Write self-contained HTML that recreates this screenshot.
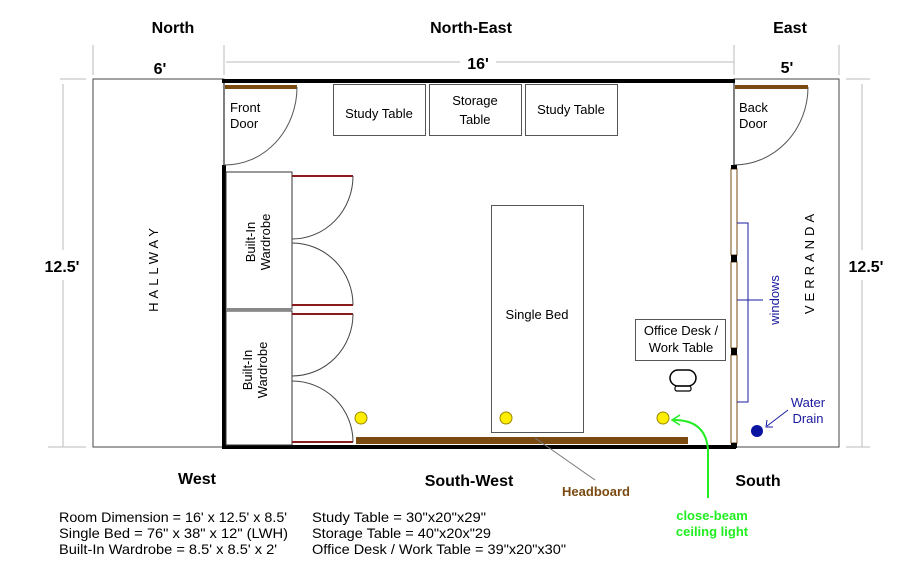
<!DOCTYPE html>
<html><head><meta charset="utf-8"><style>
html,body{margin:0;padding:0;background:#fff;}
svg{display:block;font-family:"Liberation Sans",Arial,sans-serif;}
</style></head><body>
<svg width="900" height="562" viewBox="0 0 900 562" xmlns="http://www.w3.org/2000/svg">
<rect width="900" height="562" fill="#fff"/>
<g stroke="#bbb" stroke-width="1" fill="none">
<line x1="93" y1="45" x2="93" y2="75"/>
<line x1="224" y1="45" x2="224" y2="75"/>
<line x1="226" y1="62" x2="460" y2="62"/>
<line x1="496" y1="62" x2="734" y2="62"/>
<line x1="734" y1="45" x2="734" y2="75"/>
<line x1="839" y1="45" x2="839" y2="75"/>
<line x1="60" y1="79" x2="86" y2="79"/>
<line x1="63" y1="84" x2="63" y2="250"/>
<line x1="63" y1="280" x2="63" y2="447"/>
<line x1="48" y1="447" x2="86" y2="447"/>
<line x1="846" y1="79" x2="870" y2="79"/>
<line x1="862" y1="84" x2="862" y2="250"/>
<line x1="862" y1="280" x2="862" y2="447"/>
<line x1="846" y1="447" x2="870" y2="447"/>
</g>
<g font-weight="bold" font-size="16" fill="#000" text-anchor="middle">
<text x="173" y="33">North</text>
<text x="471" y="33">North-East</text>
<text x="790" y="33">East</text>
<text x="160" y="74">6'</text>
<text x="478" y="69">16'</text>
<text x="787" y="73">5'</text>
<text x="62" y="272">12.5'</text>
<text x="866" y="272">12.5'</text>
<text x="197" y="484">West</text>
<text x="469" y="486">South-West</text>
<text x="758" y="486">South</text>
</g>
<rect x="93" y="79" width="131" height="368" fill="none" stroke="#444" stroke-width="1"/>
<rect x="734" y="79" width="105" height="368" fill="none" stroke="#444" stroke-width="1"/>
<text transform="translate(158,268) rotate(-90)" font-size="13" text-anchor="middle" letter-spacing="4">HALLWAY</text>
<text transform="translate(814,262) rotate(-90)" font-size="13" text-anchor="middle" letter-spacing="4">VERRANDA</text>
<g stroke="#000" fill="none">
<line x1="224" y1="80" x2="224" y2="165" stroke-width="1"/>
<line x1="222" y1="81" x2="735" y2="81" stroke-width="4"/>
<line x1="224" y1="165" x2="224" y2="449" stroke-width="4"/>
<line x1="222" y1="447" x2="736" y2="447" stroke-width="4"/>
<line x1="734" y1="80" x2="734" y2="165" stroke-width="1"/>
</g>
<line x1="225" y1="87" x2="297" y2="87" stroke="#7a4a10" stroke-width="4"/>
<path d="M297,87 A72,78 0 0 1 224,165" fill="none" stroke="#555" stroke-width="1"/>
<line x1="735" y1="87" x2="808" y2="87" stroke="#7a4a10" stroke-width="4"/>
<path d="M808,87 A74,78 0 0 1 734,165" fill="none" stroke="#555" stroke-width="1"/>
<g font-size="13" fill="#000">
<text x="230" y="112">Front</text><text x="230" y="128">Door</text>
<text x="739" y="112">Back</text><text x="739" y="128">Door</text>
</g>
<rect x="226" y="172" width="66" height="137" fill="none" stroke="#333"/>
<rect x="226" y="311" width="66" height="134" fill="none" stroke="#333"/>
<line x1="226" y1="309.5" x2="292" y2="309.5" stroke="#888" stroke-width="3"/>
<g stroke="#8b1a1a" stroke-width="2">
<line x1="292" y1="176" x2="353" y2="176"/><line x1="292" y1="305" x2="353" y2="305"/>
<line x1="292" y1="314" x2="353" y2="314"/><line x1="292" y1="442" x2="353" y2="442"/>
</g>
<g fill="none" stroke="#444" stroke-width="1">
<path d="M353,176 A61,63 0 0 1 292,239"/>
<path d="M292,243 A61,62 0 0 1 353,305"/>
<path d="M353,314 A61,62 0 0 1 292,376"/>
<path d="M292,381 A61,61 0 0 1 353,442"/>
</g>
<g font-size="13" text-anchor="middle">
<text transform="translate(255,242) rotate(-90)">Built-In</text>
<text transform="translate(270,242) rotate(-90)">Wardrobe</text>
<text transform="translate(252,370) rotate(-90)">Built-In</text>
<text transform="translate(267,370) rotate(-90)">Wardrobe</text>
</g>
<g fill="none" stroke="#555">
<rect x="333.5" y="84.5" width="92" height="51"/>
<rect x="429.5" y="84.5" width="92" height="51"/>
<rect x="525.5" y="84.5" width="92" height="51"/>
<rect x="491.5" y="205.5" width="92" height="227"/>
<rect x="635.5" y="319.5" width="90" height="41"/>
</g>
<g font-size="13" text-anchor="middle">
<text x="379" y="118">Study Table</text>
<text x="475" y="105">Storage</text><text x="475" y="124">Table</text>
<text x="571" y="114">Study Table</text>
<text x="537" y="319">Single Bed</text>
<text x="681" y="335">Office Desk /</text><text x="681" y="352">Work Table</text>
</g>
<rect x="670" y="370" width="26" height="16" rx="8" fill="none" stroke="#000" stroke-width="1.5"/>
<rect x="675" y="386" width="16" height="5" rx="2" fill="none" stroke="#000" stroke-width="1.2"/>
<rect x="356" y="437" width="332" height="7" fill="#7a4a10"/>
<line x1="535" y1="438" x2="595" y2="480" stroke="#777" stroke-width="1"/>
<text x="596" y="496" font-size="13" fill="#7a4a10" font-weight="bold" text-anchor="middle">Headboard</text>
<g fill="#ffee00" stroke="#998800" stroke-width="1">
<circle cx="361" cy="418" r="6"/><circle cx="506" cy="418" r="6"/><circle cx="663" cy="418" r="6"/>
</g>
<path d="M708,498 L708,450 Q706,420 674,420" fill="none" stroke="#22ee22" stroke-width="2"/>
<path d="M680,415 L672,420 L680,425" fill="none" stroke="#22ee22" stroke-width="1.5"/>
<g font-size="13" fill="#22ee22" text-anchor="middle" font-weight="bold">
<text x="712" y="520">close-beam</text><text x="712" y="536">ceiling light</text>
</g>
<g fill="#fff" stroke="#7a4a10" stroke-width="1">
<rect x="731" y="169" width="6" height="86"/>
<rect x="731" y="262" width="6" height="86"/>
<rect x="731" y="355" width="6" height="88"/>
</g>
<g fill="#000"><rect x="731" y="165" width="6" height="4"/><rect x="731" y="255" width="6" height="7"/><rect x="731" y="348" width="6" height="7"/><rect x="731" y="443" width="6" height="5"/></g>
<g stroke="#1a1aa0" stroke-width="1" fill="none">
<path d="M737,223 L748,223 L748,402 L737,402"/>
<line x1="737" y1="300" x2="763" y2="300"/>
</g>
<text transform="translate(779,300) rotate(-90)" font-size="13" fill="#1a1aa0" text-anchor="middle">windows</text>
<circle cx="757" cy="431" r="6" fill="#0a14a0"/>
<line x1="788" y1="410" x2="767" y2="426" stroke="#1a1aa0" stroke-width="1"/>
<path d="M767,420 L766,427 L773,427" fill="none" stroke="#1a1aa0" stroke-width="1"/>
<g font-size="13" fill="#1a1aa0" text-anchor="middle"><text x="808" y="407">Water</text><text x="808" y="423">Drain</text></g>
<g font-size="14" fill="#000">
<text x="59" y="522" textLength="228" lengthAdjust="spacingAndGlyphs">Room Dimension = 16' x 12.5' x 8.5'</text>
<text x="59" y="538" textLength="229" lengthAdjust="spacingAndGlyphs">Single Bed  = 76" x 38" x 12" (LWH)</text>
<text x="59" y="554" textLength="218" lengthAdjust="spacingAndGlyphs">Built-In Wardrobe = 8.5' x 8.5' x 2'</text>
<text x="312" y="522" textLength="174" lengthAdjust="spacingAndGlyphs">Study Table = 30"x20"x29"</text>
<text x="312" y="538" textLength="179" lengthAdjust="spacingAndGlyphs">Storage Table = 40"x20x"29</text>
<text x="312" y="554" textLength="254" lengthAdjust="spacingAndGlyphs">Office Desk / Work Table = 39"x20"x30"</text>
</g>
</svg>
</body></html>
